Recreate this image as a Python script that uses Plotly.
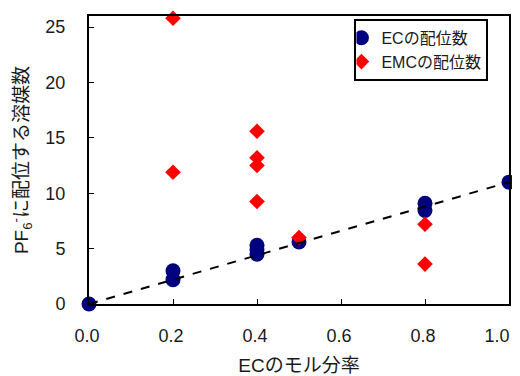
import plotly.graph_objects as go

# EC coordination numbers
ec_x = [0.0, 0.2, 0.2, 0.4, 0.4, 0.4, 0.5, 0.8, 0.8, 1.0]
ec_y = [0.0, 2.2, 3.0, 4.5, 4.9, 5.3, 5.6, 8.45, 9.1, 11.0]

# EMC coordination numbers
emc_x = [0.2, 0.2, 0.4, 0.4, 0.4, 0.4, 0.5, 0.8, 0.8]
emc_y = [25.8, 11.9, 15.6, 13.2, 12.5, 9.25, 6.0, 7.2, 3.6]

# dashed reference line
line_x = [0.0, 1.0]
line_y = [0.0, 11.0]

x_ticks = [0.0, 0.2, 0.4, 0.6, 0.8, 1.0]
x_tick_labels = ["0.0", "0.2", "0.4", "0.6", "0.8", "1.0"]
y_ticks = [0, 5, 10, 15, 20, 25]

FONT = "Liberation Sans, Arial, Noto Sans CJK JP, sans-serif"

# last x label is kept inside the page (padded on its right, as in the reference)
x_tick_text = x_tick_labels[:-1] + [x_tick_labels[-1] + "\u00a0" * 4]

fig = go.Figure()
fig.add_trace(go.Scatter(
    x=ec_x, y=ec_y, mode="markers", name="ECの配位数",
    marker=dict(symbol="circle", size=15, color="#000080"),
    cliponaxis=False,
))
fig.add_trace(go.Scatter(
    x=emc_x, y=emc_y, mode="markers", name="EMCの配位数",
    marker=dict(symbol="diamond", size=12, color="#ff0000"),
    cliponaxis=False,
))
fig.add_trace(go.Scatter(
    x=line_x, y=line_y, mode="lines", showlegend=False,
    line=dict(color="black", width=2, dash="dash"),
    cliponaxis=False,
))

# page body has an 8px margin: figure is 512x368 so the plot sits where the reference's does
fig.update_layout(
    width=512, height=368,
    margin=dict(l=81, r=11, t=8, b=72, autoexpand=False),
    paper_bgcolor="white", plot_bgcolor="white",
    font=dict(family=FONT, size=18, color="#1a1a1a"),
    showlegend=True,
    legend=dict(
        x=0.632, y=0.99, xanchor="left", yanchor="top",
        bordercolor="black", borderwidth=2, bgcolor="white",
        font=dict(size=16, color="#1a1a1a"),
        tracegroupgap=0, indentation=-15,
    ),
    xaxis=dict(
        range=[0, 1], tickvals=x_ticks, ticktext=x_tick_text,
        showgrid=False, zeroline=False,
        showline=True, linecolor="black", linewidth=2, mirror=True,
        ticks="inside", ticklen=5, tickcolor="black", tickwidth=1,
        ticklabelstandoff=14, ticklabelshift=-2, automargin=False,
        ticklabeloverflow="allow",
        title=dict(text="ECのモル分率", standoff=28, font=dict(size=19)),
    ),
    yaxis=dict(
        range=[0, 26], tickvals=y_ticks,
        showgrid=False, zeroline=False,
        showline=True, linecolor="black", linewidth=2, mirror=True,
        ticks="inside", ticklen=5, tickcolor="black", tickwidth=1,
        ticklabelstandoff=18, automargin=False,
        title=dict(text="PF<sub>6</sub><sup>-</sup>に配位する溶媒数", standoff=12, font=dict(size=19)),
    ),
)

fig.write_html("out.html")
